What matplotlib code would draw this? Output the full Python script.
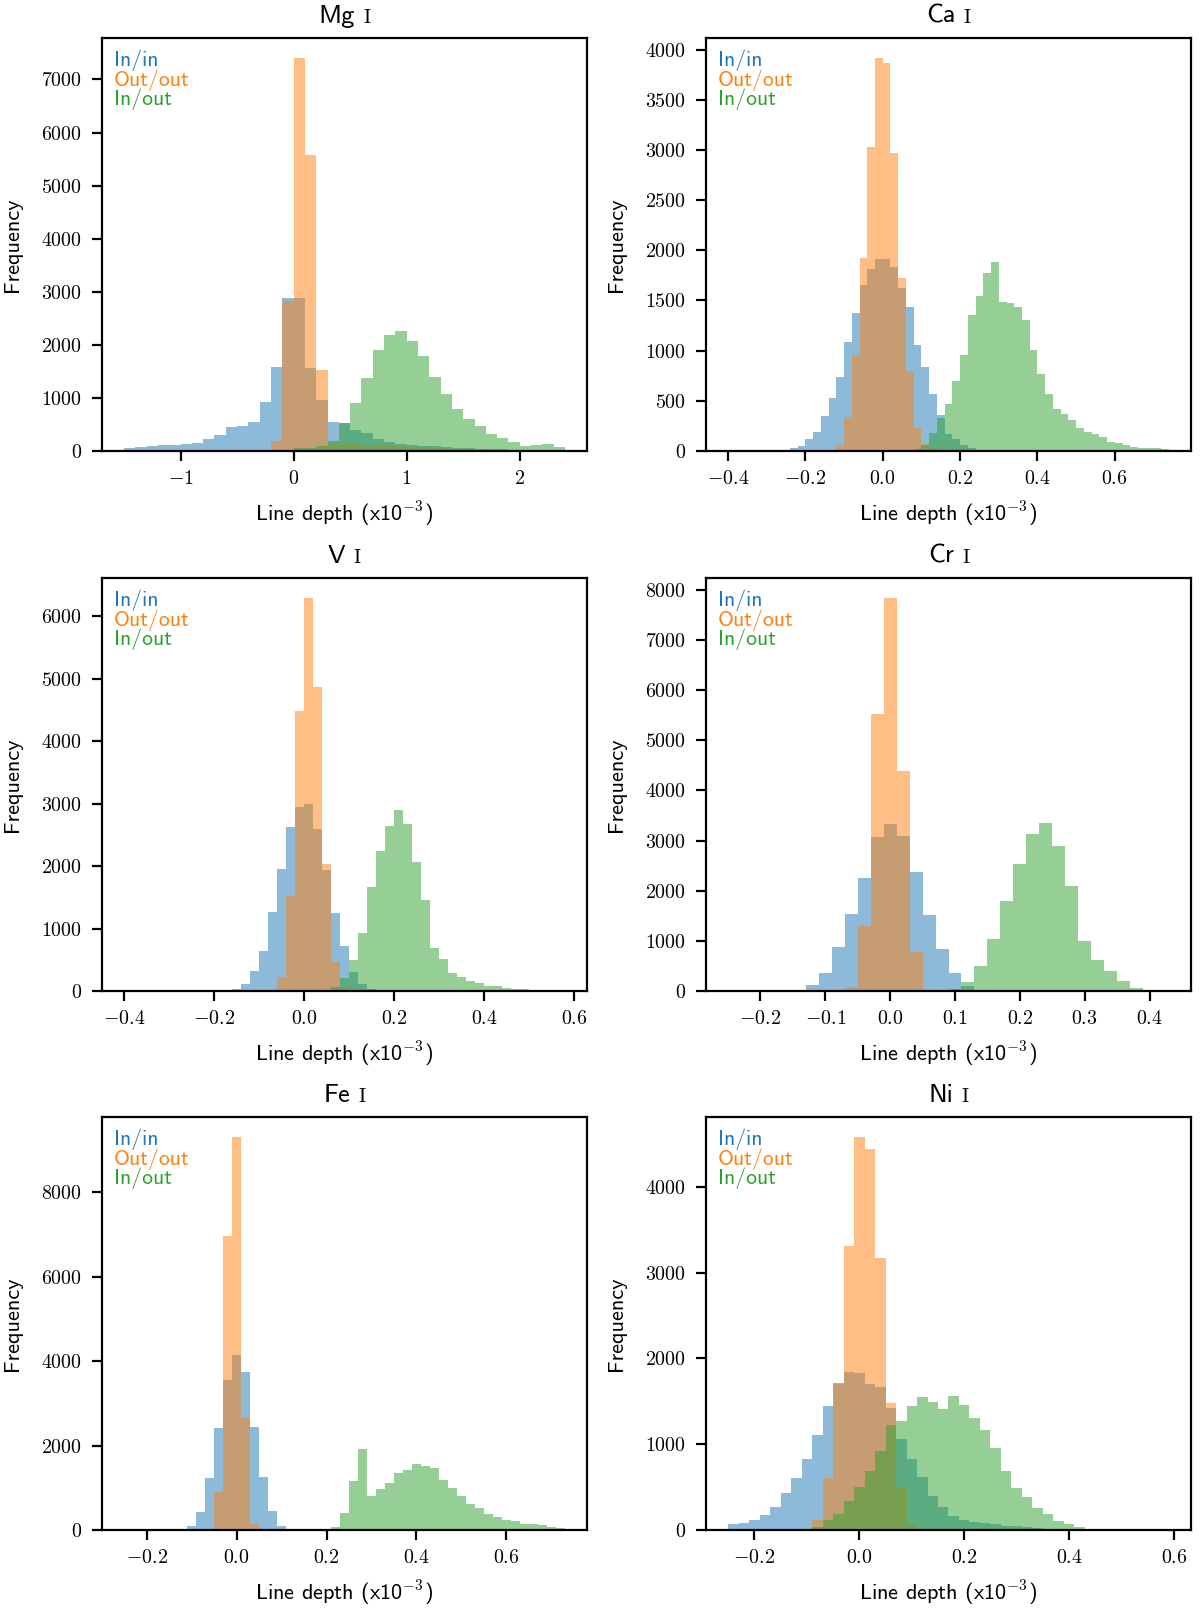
import numpy as np
import matplotlib
matplotlib.use("Agg")
import matplotlib.pyplot as plt
from matplotlib.ticker import FuncFormatter
from matplotlib.offsetbox import TextArea, HPacker, AnchoredOffsetbox

plt.rcParams['mathtext.fontset'] = 'cm'
plt.rcParams['font.family'] = ['cmss10', 'DejaVu Sans']

# Histogram counts (bin counts per bin, left edge given by *_start)
# Mg I, bins of 0.1 from -1.5 to 2.4
mg_bins = (-1.5, 2.4, 0.1)
mg_inin_start = -1.5
mg_inin = [60, 80, 100, 110, 110, 130, 160, 220, 310, 460, 470, 540, 920, 1585, 2890,
           2890, 1573, 960, 550, 520, 395, 345, 220, 175, 140, 110, 95, 85, 75, 65,
           55, 45, 40, 30, 25, 20]
mg_outout_start = -0.2
mg_outout = [187, 2820, 7410, 5580, 1517, 150, 140, 130, 120, 110, 100, 90, 80, 70,
             60, 50, 45, 40, 30, 20]
mg_inout_start = 0.0
mg_inout = [50, 60, 90, 180, 520, 900, 1372, 1900, 2190, 2255, 2078, 1782, 1397, 1070,
            793, 603, 470, 318, 238, 175, 92, 110, 130, 80]

# Ca I, bins of 0.02 from -0.4 to 0.74
ca_bins = (-0.4, 0.74, 0.02)
ca_inin_start = -0.26
ca_inin = [8, 25, 50, 120, 193, 350, 527, 737, 1083, 1377, 1650, 1810, 1917, 1910,
           1833, 1627, 1437, 1060, 833, 567, 360, 167, 117, 60, 25, 10]
ca_outout_start = -0.12
ca_outout = [60, 343, 960, 1920, 3027, 3920, 3870, 2973, 1723, 793, 233, 70, 30]
ca_inout_start = 0.08
ca_inout = [20, 60, 183, 327, 470, 693, 953, 1360, 1543, 1777, 1887, 1483, 1477, 1440,
            1310, 1010, 767, 570, 417, 367, 310, 233, 193, 167, 137, 93, 77, 60, 43,
            33, 33, 27, 23]

# V I, bins of 0.02 from -0.4 to 0.58
v_bins = (-0.4, 0.58, 0.02)
v_inin_start = -0.16
v_inin = [30, 112, 316, 648, 1263, 1954, 2628, 2939, 2998, 2591, 1943, 1247, 717, 300,
          112, 30]
v_outout_start = -0.06
v_outout = [230, 1520, 4475, 6295, 4860, 2040, 471, 60]
v_inout_start = 0.06
v_inout = [60, 209, 498, 931, 1665, 2243, 2645, 2896, 2672, 2061, 1461, 690, 514, 289,
           230, 166, 123, 86, 80, 48, 37, 27, 21, 16, 11, 6]

# Cr I, bins of 0.02 from -0.25 to 0.43
cr_bins = (-0.25, 0.43, 0.02)
cr_inin_start = -0.15
cr_inin = [20, 120, 354, 887, 1528, 2255, 3075, 3322, 3089, 2375, 1521, 834, 360, 107]
cr_outout_start = -0.07
cr_outout = [87, 1288, 5530, 7845, 4390, 787, 10]
cr_inout_start = 0.09
cr_inout = [47, 173, 500, 1040, 1788, 2542, 3129, 3349, 2895, 2095, 1000, 620, 400,
            207, 60, 5]

# Fe I, bins of 0.02 from -0.25 to 0.73
fe_bins = (-0.25, 0.73, 0.02)
fe_inin_start = -0.11
fe_inin = [95, 435, 1225, 2411, 3557, 4150, 3739, 2435, 1257, 458, 103]
fe_outout_start = -0.05
fe_outout = [909, 6957, 9312, 2648, 134]
fe_inout_start = 0.21
fe_inout = [79, 411, 1162, 1913, 806, 964, 1123, 1344, 1423, 1557, 1518, 1462, 1186,
            988, 806, 617, 514, 372, 300, 237, 221, 142, 142, 119, 79, 55]

# Ni I, bins of 0.02 from -0.25 to 0.59
ni_bins = (-0.25, 0.59, 0.02)
ni_inin_start = -0.25
ni_inin = [74, 82, 113, 179, 265, 432, 607, 825, 1109, 1444, 1712, 1840, 1829, 1700,
           1665, 1420, 1058, 825, 623, 397, 265, 163, 117, 93, 78, 66, 51, 51, 31, 19,
           10]
ni_outout_start = -0.11
ni_outout = [8, 117, 603, 1700, 3315, 4584, 4436, 3167, 1479, 486, 66]
ni_inout_start = -0.11
ni_inout = [12, 39, 113, 187, 342, 506, 693, 926, 1218, 1276, 1447, 1549, 1486, 1412,
            1556, 1451, 1307, 1160, 953, 689, 494, 385, 253, 187, 105, 70, 39, 16, 5]

panels = [
    ("Mg", mg_bins, [(mg_inin_start, mg_inin), (mg_outout_start, mg_outout), (mg_inout_start, mg_inout)], 0),
    ("Ca", ca_bins, [(ca_inin_start, ca_inin), (ca_outout_start, ca_outout), (ca_inout_start, ca_inout)], 1),
    ("V", v_bins, [(v_inin_start, v_inin), (v_outout_start, v_outout), (v_inout_start, v_inout)], 1),
    ("Cr", cr_bins, [(cr_inin_start, cr_inin), (cr_outout_start, cr_outout), (cr_inout_start, cr_inout)], 1),
    ("Fe", fe_bins, [(fe_inin_start, fe_inin), (fe_outout_start, fe_outout), (fe_inout_start, fe_inout)], 1),
    ("Ni", ni_bins, [(ni_inin_start, ni_inin), (ni_outout_start, ni_outout), (ni_inout_start, ni_inout)], 1),
]

labels = ["In/in", "Out/out", "In/out"]
colors = ["C0", "C1", "C2"]


def math_fmt(decimals):
    def f(v, pos):
        if abs(v) < 1e-9:
            v = 0.0
        return f"${v:.{decimals}f}$"
    return FuncFormatter(f)


fig = plt.figure(figsize=(6, 8.045), dpi=200)

col_x = [102 / 1200, 706 / 1200]
row_y = [(1609 - 451) / 1609, (1609 - 991) / 1609, (1609 - 1530) / 1609]
ax_w = 485 / 1200
ax_h = 413 / 1609

for i, (name, (lo, hi, w), series, dec) in enumerate(panels):
    ax = fig.add_axes([col_x[i % 2], row_y[i // 2], ax_w, ax_h])
    n = int(round((hi - lo) / w))
    edges = np.round(lo + w * np.arange(n + 1), 6)
    for (start, counts), lab, c in zip(series, labels, colors):
        full = np.zeros(n)
        k = int(round((start - lo) / w))
        full[k:k + len(counts)] = counts
        ax.hist(edges[:-1] + w / 2, bins=edges, weights=full, alpha=0.5, color=c, label=lab)

    ax.xaxis.set_major_formatter(math_fmt(dec))
    ax.yaxis.set_major_formatter(math_fmt(0))
    ax.tick_params(labelsize=7.2)
    ax.set_xlabel(r"Line depth (x10$^{-3}$)", fontsize=8, labelpad=4)
    ax.set_ylabel("Frequency", fontsize=8, labelpad=7)

    leg = ax.legend(loc="upper left", frameon=False, handlelength=0, handletextpad=0,
                    borderaxespad=0.15, labelspacing=-0.1, fontsize=7.8)
    for h in leg.legend_handles:
        h.set_visible(False)
    for t, c in zip(leg.get_texts(), colors):
        t.set_color(c)

    title = HPacker(children=[TextArea(name, textprops=dict(fontsize=9.5, family='cmss10')),
                              TextArea("I", textprops=dict(fontsize=7, family='cmr10'))],
                    align="baseline", pad=0, sep=3)
    ab = AnchoredOffsetbox(loc="lower center", child=title, bbox_to_anchor=(0.5, 1.025),
                           bbox_transform=ax.transAxes, frameon=False, pad=0, borderpad=0)
    ax.add_artist(ab)

fig.savefig("out.png", dpi=200)
